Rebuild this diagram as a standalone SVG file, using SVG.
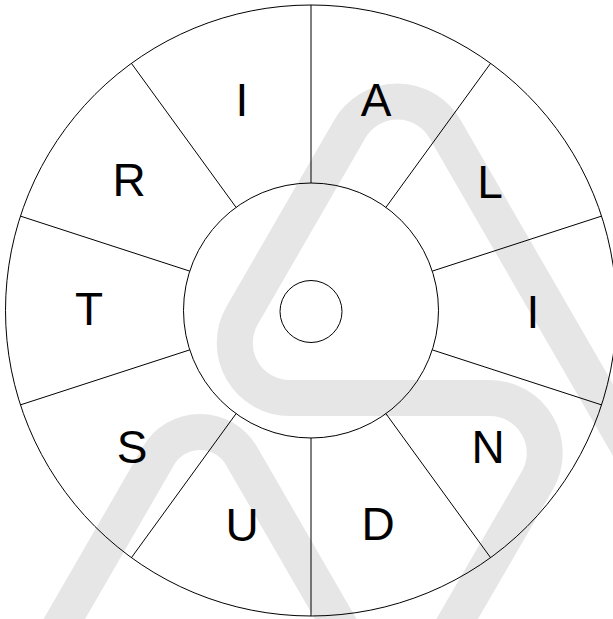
<svg xmlns="http://www.w3.org/2000/svg" width="613" height="619" viewBox="0 0 613 619">
<style>
.wm{fill:none;stroke:#e6e6e6;stroke-width:36;stroke-linecap:butt;stroke-linejoin:round}
.ring{fill:none;stroke:#000;stroke-width:1}
.div line{stroke:#000;stroke-width:1}
.lbl{font-family:"Liberation Sans",Arial,Helvetica,sans-serif;font-size:46px;fill:#000;text-anchor:middle}
</style>
<rect x="0" y="0" width="613" height="619" fill="#fff"/>
<g id="watermark">
<path class="wm" d="M740,640 L445,129 A55,55 0 0 0 349.8,129 L242.1,315.5 A55,55 0 0 0 289.8,398 L489.7,398 A55,55 0 0 1 537.4,480.5 L445,640"/>
<path class="wm" d="M52.2,640 L158.4,456 A48,48 0 0 1 241.6,456 L347.8,640"/>
</g>
<g id="rings">
<circle id="outer" class="ring" cx="311" cy="310.5" r="305.5"/>
<circle id="inner" class="ring" cx="311" cy="310.5" r="127.5"/>
<circle id="hub" class="ring" cx="311" cy="311.5" r="31"/>
</g>
<g id="dividers" class="div">
<line x1="311" y1="183" x2="311" y2="5"/>
<line x1="385.9" y1="207.4" x2="490.6" y2="63.3"/>
<line x1="432.3" y1="271.1" x2="601.6" y2="216.1"/>
<line x1="432.3" y1="349.9" x2="601.6" y2="404.9"/>
<line x1="385.9" y1="413.6" x2="490.6" y2="557.7"/>
<line x1="311" y1="438" x2="311" y2="616"/>
<line x1="236.1" y1="413.6" x2="131.4" y2="557.7"/>
<line x1="189.7" y1="349.9" x2="20.4" y2="404.9"/>
<line x1="189.7" y1="271.1" x2="20.4" y2="216.1"/>
<line x1="236.1" y1="207.4" x2="131.4" y2="63.3"/>
</g>
<g id="labels">
<g id="s-A"><text class="lbl" x="376" y="116">A</text></g>
<g id="s-L"><text class="lbl" x="490" y="198">L</text></g>
<g id="s-I2"><text class="lbl" x="533" y="328">I</text></g>
<g id="s-N"><text class="lbl" x="488" y="463">N</text></g>
<g id="s-D"><text class="lbl" x="378" y="540">D</text></g>
<g id="s-U"><text class="lbl" x="242" y="541">U</text></g>
<g id="s-S"><text class="lbl" x="132" y="463">S</text></g>
<g id="s-T"><text class="lbl" x="89" y="325">T</text></g>
<g id="s-R"><text class="lbl" x="129" y="196">R</text></g>
<g id="s-I1"><text class="lbl" x="242" y="116">I</text></g>
</g>
</svg>
